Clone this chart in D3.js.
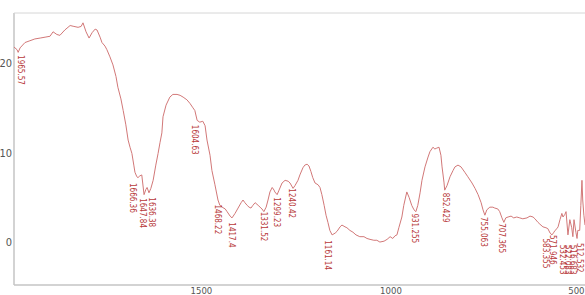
<!DOCTYPE html>
<html><head><meta charset="utf-8">
<script src="https://cdn.jsdelivr.net/npm/d3@7"></script>
<style>html,body{margin:0;padding:0;background:#fff;overflow:hidden}</style>
</head><body>
<svg id="c" width="585" height="295"></svg>
<script>
// wavenumber (cm-1) of each sampled point
const wavenumbers = [1993,1985,1982,1977,1964,1951,1938,1924,1911,1898,1890,1880,1872,1859,1845,1835,1824,1816,1811,1803,1795,1787,1779,1774,1766,1761,1753,1748,1740,1732,1724,1719,1711,1705,1698,1692,1687,1682,1677,1674,1669,1666,1661,1656,1650,1645,1642,1637,1632,1626,1619,1613,1608,1603,1600,1592,1582,1574,1563,1555,1547,1537,1529,1521,1516,1510,1503,1495,1489,1484,1476,1471,1463,1455,1450,1444,1436,1431,1423,1418,1410,1402,1394,1389,1384,1378,1373,1368,1363,1357,1349,1344,1339,1334,1328,1323,1318,1312,1307,1305,1299,1294,1286,1278,1270,1265,1257,1252,1244,1239,1231,1226,1220,1215,1210,1205,1199,1191,1186,1181,1175,1170,1165,1160,1154,1146,1141,1133,1128,1120,1115,1107,1099,1091,1081,1070,1062,1054,1044,1036,1028,1017,1009,1001,994,988,983,978,970,965,957,951,944,938,933,928,922,917,909,901,896,888,883,878,872,867,864,859,857,851,843,835,830,822,814,804,796,785,777,769,761,756,751,746,738,730,725,717,712,706,701,696,690,682,675,667,659,651,640,632,624,619,611,606,598,590,585,579,574,569,566,561,558,553,548,545,540,537,532,527,522,519,516,511,508,506,501,498,495,493,490,487];
// transmittance-like signal
const signal = [21.8,21.5,21.2,21.7,22.3,22.5,22.7,22.8,22.9,23.0,23.5,23.2,23.1,23.7,24.2,24.1,24.0,24.1,24.5,23.5,22.8,23.4,23.8,23.7,22.9,22.3,21.9,21.5,20.7,19.8,18.5,17.3,16.0,14.7,13.1,11.4,10.6,9.9,8.6,7.8,7.3,7.2,7.4,7.5,5.3,5.9,6.1,5.5,6.0,6.9,8.6,9.9,11.1,12.2,14.0,15.3,16.2,16.5,16.5,16.4,16.2,15.9,15.5,15.0,14.7,13.6,13.4,13.5,13.0,11.4,9.7,8.0,6.4,4.7,4.1,3.9,3.7,3.4,2.9,2.7,3.2,3.8,4.4,4.7,4.4,4.1,3.9,3.8,4.1,4.4,4.1,3.9,3.7,3.4,3.9,4.7,5.6,6.1,5.8,5.6,5.3,5.8,6.6,6.9,6.8,6.6,6.0,6.3,6.9,7.5,8.3,8.6,8.7,8.5,7.9,7.2,6.6,6.4,6.1,5.3,4.1,3.0,2.2,1.3,0.8,1.0,1.2,1.7,1.9,1.7,1.6,1.3,1.1,0.8,0.6,0.6,0.4,0.3,0.2,0.2,0.0,0.1,0.3,0.6,0.4,0.7,0.8,1.6,2.8,4.1,5.6,5.0,4.1,3.6,3.4,4.1,5.5,6.9,8.4,9.5,10.1,10.6,10.4,10.5,10.6,9.7,8.4,6.7,5.8,6.3,7.3,8.0,8.4,8.6,8.4,7.8,7.3,6.6,6.0,5.3,4.4,3.6,3.0,3.6,3.9,3.9,3.8,3.7,3.4,2.7,2.2,2.7,2.8,2.9,2.7,2.8,2.7,2.6,2.7,2.9,2.8,2.6,2.2,2.0,1.7,1.6,1.5,1.0,0.8,1.1,1.3,1.5,1.7,2.5,3.2,2.8,3.1,3.4,0.8,2.5,1.6,0.6,2.5,1.1,0.4,1.3,1.3,4.1,6.9,4.7,3.0,1.9];
// peak annotations
const peakLabels = ["1965.57","1666.36","1647.84","1636.38","1604.63","1468.22","1417.4","1331.52","1299.23","1240.42","1161.14","931.255","852.429","755.063","707.365","583.355","571.946","532.453","522.083","516.683","512.532"];
const peakWn =     [1975,1679,1653,1629,1516,1455,1418,1334,1299,1260,1165,936,854,754,706,590,572,545,532,519,500];
const peakVal =    [20.9,6.6,4.9,5.0,13.1,4.2,2.2,3.4,5.0,6.0,0.2,3.2,5.5,2.8,2.1,0.4,0.8,-0.3,-0.3,-0.3,-0.1];
const xTicks = [1500,1000,500];
const yTicks = [0,10,20];

const svg = d3.select("#c");
const L=14, R=585, T=13, B=285;
const x = d3.scaleLinear().domain([1993,487]).range([L,R]);
const y = d3.scaleLinear().domain([-4.8,25.6]).range([B,T]);

// frame
svg.append("line").attr("x1",L).attr("x2",L).attr("y1",T).attr("y2",B).attr("stroke","#c4c4c4").attr("stroke-width",1.5);
svg.append("line").attr("x1",L).attr("x2",R).attr("y1",B).attr("y2",B).attr("stroke","#c4c4c4").attr("stroke-width",1.5);
svg.append("line").attr("x1",L).attr("x2",R).attr("y1",T).attr("y2",T).attr("stroke","#d6d6d6").attr("stroke-width",1);

const xAxis = d3.axisBottom(x).tickValues(xTicks).tickSize(0).tickFormat(d3.format("d"));
const gx = svg.append("g").attr("transform",`translate(0,${B})`).call(xAxis);
gx.select(".domain").remove();
gx.selectAll("text").attr("dy",null).attr("y",8.8).attr("font-family","'Liberation Sans Narrow','DejaVu Sans Condensed',sans-serif").attr("font-size",9.5).attr("fill","#555");
// keep the last tick label inside the picture
gx.selectAll(".tick").filter(d=>x(d)+8>R).select("text").attr("text-anchor","end").attr("x",R-1-x(xTicks[xTicks.length-1]));

const yAxis = d3.axisLeft(y).tickValues(yTicks).tickSize(0).tickFormat(d3.format("d"));
const gy = svg.append("g").attr("transform",`translate(${L},0)`).call(yAxis);
gy.select(".domain").remove();
gy.selectAll("text").attr("x",-2).attr("font-family","'Liberation Sans Narrow','DejaVu Sans Condensed',sans-serif").attr("font-size",11).attr("fill","#555");

const data = wavenumbers.map((w,i)=>[w,signal[i]]);
svg.append("path").datum(data)
  .attr("fill","none").attr("stroke","#d27878").attr("stroke-width",1)
  .attr("stroke-linejoin","round")
  .attr("d", d3.line().x(d=>x(d[0])).y(d=>y(d[1])));

svg.append("g").selectAll("text").data(peakLabels).join("text")
  .attr("transform",(d,i)=>`translate(${x(peakWn[i])},${y(peakVal[i])}) rotate(90)`)
  .attr("dy","0.35em")
  .attr("font-family","'Liberation Sans Narrow','DejaVu Sans Condensed',sans-serif")
  .attr("font-size",8).attr("fill","#b83a3a")
  .text(d=>d);
</script>
</body></html>
